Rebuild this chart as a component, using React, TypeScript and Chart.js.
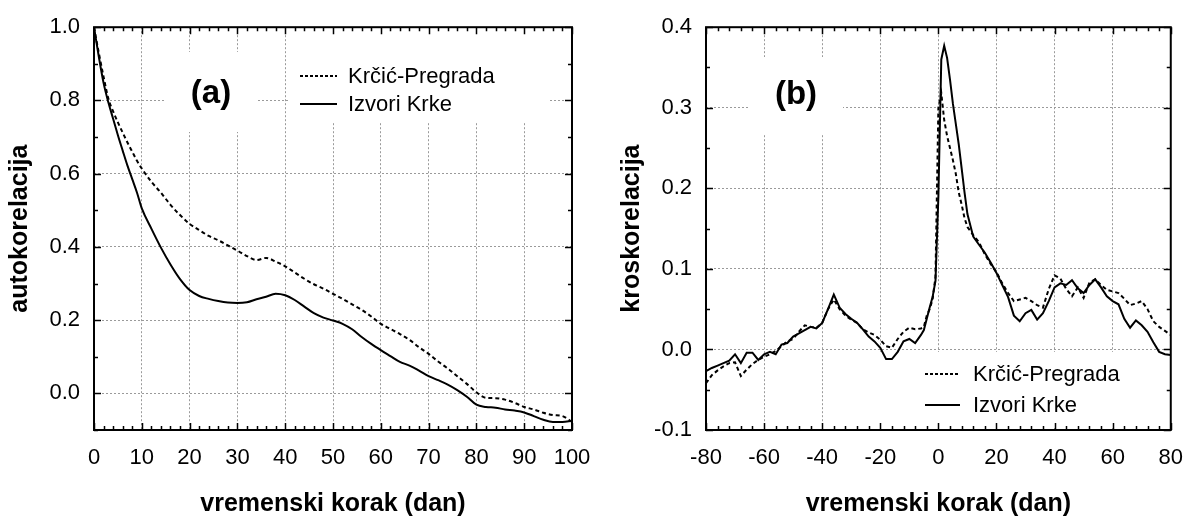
import React, { useEffect, useRef } from "react";
import { Chart, registerables } from "chart.js";

Chart.register(...registerables);

// ---------- data: panel (a) autocorrelation ----------
const lagA = [0, 1, 2, 3, 4, 5, 6, 7, 8, 9, 10, 12, 14, 16, 18, 20, 22, 24, 26, 28, 30, 32, 34, 36, 38, 40, 42, 44, 46, 48, 50, 52, 54, 56, 58, 60, 62, 64, 66, 68, 70, 72, 74, 76, 78, 80, 82, 84, 86, 88, 90, 92, 94, 96, 98, 100];
const krcicA = [1.0, 0.93, 0.865, 0.805, 0.77, 0.74, 0.712, 0.685, 0.66, 0.635, 0.614,
  0.578, 0.548, 0.515, 0.487, 0.463, 0.446, 0.43, 0.418, 0.404, 0.39, 0.375, 0.364, 0.37, 0.36, 0.347, 0.33, 0.313, 0.298, 0.286, 0.272, 0.258, 0.243, 0.228, 0.21, 0.19, 0.176, 0.162, 0.146, 0.126, 0.108, 0.087, 0.068, 0.047, 0.026, 0.003, -0.012, -0.013, -0.017, -0.026, -0.037, -0.044, -0.053, -0.059, -0.062, -0.078];
const izvoriA = [1.0, 0.92, 0.848, 0.795, 0.75, 0.705, 0.663, 0.622, 0.585, 0.548, 0.505,
  0.45, 0.398, 0.352, 0.312, 0.282, 0.266, 0.258, 0.252, 0.248, 0.247, 0.249, 0.257, 0.264, 0.272, 0.268, 0.255, 0.237, 0.219, 0.207, 0.199, 0.19, 0.175, 0.154, 0.135, 0.118, 0.102, 0.086, 0.076, 0.062, 0.047, 0.036, 0.024, 0.009, -0.009, -0.031, -0.037, -0.039, -0.044, -0.047, -0.052, -0.062, -0.072, -0.078, -0.078, -0.075];
const xTicksA = [0, 10, 20, 30, 40, 50, 60, 70, 80, 90, 100];
const yTicksA = [0.0, 0.2, 0.4, 0.6, 0.8, 1.0];

// ---------- data: panel (b) cross-correlation ----------
const lagB = [-80, -78, -76, -74, -72, -70, -68, -66, -64, -62, -60, -58, -56, -54, -52, -50, -48, -46, -44, -42, -40, -38, -36, -34, -32, -30, -28, -26, -24, -22, -20, -18, -16, -14, -12, -10, -8, -6,
  -5, -4, -3, -2, -1, 0, 1, 2, 3, 4, 5, 6, 7, 8, 9, 10,
  12, 14, 16, 18, 20, 22, 24, 26, 28, 30, 32, 34, 36, 38, 40, 42, 44, 46, 48, 50, 52, 54, 56, 58, 60, 62, 64, 66, 68, 70, 72, 74, 76, 78, 80];
const krcicB = [-0.042, -0.032, -0.026, -0.021, -0.017, -0.016, -0.033, -0.025, -0.018, -0.013, -0.009, -0.006, -0.002, 0.004, 0.01, 0.013, 0.022, 0.03, 0.028, 0.027, 0.033, 0.05, 0.062, 0.05, 0.042, 0.037, 0.033, 0.025, 0.021, 0.018, 0.012, 0.004, 0.002, 0.013, 0.022, 0.027, 0.025, 0.026,
  0.028, 0.042, 0.05, 0.062, 0.09, 0.3, 0.318, 0.285, 0.265, 0.25, 0.235, 0.218, 0.195, 0.18, 0.163, 0.152,
  0.142, 0.133, 0.118, 0.106, 0.096, 0.082, 0.07, 0.06, 0.062, 0.064, 0.06, 0.055, 0.052, 0.075, 0.092, 0.088, 0.075, 0.066, 0.077, 0.064, 0.083, 0.087, 0.08, 0.074, 0.072, 0.07, 0.063, 0.055, 0.057, 0.06, 0.05, 0.035, 0.028, 0.023, 0.018];
const izvoriB = [-0.027, -0.023, -0.02, -0.017, -0.014, -0.006, -0.017, -0.004, -0.004, -0.013, -0.006, -0.003, -0.006, 0.006, 0.008, 0.016, 0.02, 0.024, 0.028, 0.026, 0.033, 0.05, 0.068, 0.052, 0.044, 0.038, 0.033, 0.025, 0.016, 0.01, 0.002, -0.012, -0.012, -0.003, 0.01, 0.013, 0.008, 0.018,
  0.024, 0.038, 0.052, 0.065, 0.085, 0.19, 0.36, 0.377, 0.362, 0.335, 0.305, 0.28, 0.255, 0.225, 0.195, 0.168,
  0.14, 0.13, 0.12, 0.108, 0.095, 0.08, 0.065, 0.042, 0.035, 0.045, 0.049, 0.037, 0.045, 0.06, 0.077, 0.082, 0.08, 0.086, 0.076, 0.07, 0.08, 0.087, 0.077, 0.066, 0.06, 0.056, 0.038, 0.027, 0.036, 0.03, 0.022, 0.009, -0.003, -0.006, -0.007];
const xTicksB = [-80, -60, -40, -20, 0, 20, 40, 60, 80];
const yTicksB = [-0.1, 0.0, 0.1, 0.2, 0.3, 0.4];

const seriesNames = ["Krčić-Pregrada", "Izvori Krke"];
const xTitle = "vremenski korak (dan)";
const yTitleA = "autokorelacija";
const yTitleB = "kroskorelacija";

const FONT = '"Liberation Sans", Arial, Helvetica, sans-serif';

type PanelSpec = {
  lags: number[];
  series: number[][];
  xMin: number; xMax: number; yMin: number; yMax: number;
  xTicks: number[]; yTicks: number[];
  xMinor: number; yMinor: number; xMajor: number; yMajor: number;
  yTitle: string; tag: string; smooth: boolean;
  rightPad: number;
  tagPos: [number, number];
  boxes: number[][];
  legend: { lineX0: number; lineX1: number; textX: number; ys: number[] };
};

function makePlugin(spec: PanelSpec) {
  return {
    id: "frameDecor",
    beforeDatasetsDraw(chart: any) {
      const ctx = chart.ctx;
      ctx.save();
      ctx.fillStyle = "#fff";
      for (const b of spec.boxes) ctx.fillRect(b[0], b[1], b[2] - b[0], b[3] - b[1]);
      ctx.restore();
    },
    afterDatasetsDraw(chart: any) {
      const { ctx, chartArea: ca, scales } = chart;
      const xs = scales.x, ys = scales.y;
      ctx.save();
      ctx.strokeStyle = "#000";
      ctx.lineWidth = 1.5;
      ctx.setLineDash([]);
      const isMajor = (v: number, m: number) => Math.abs(v / m - Math.round(v / m)) < 1e-6;
      const nx = Math.round((spec.xMax - spec.xMin) / spec.xMinor);
      ctx.beginPath();
      for (let i = 0; i <= nx; i++) {
        const v = spec.xMin + i * spec.xMinor;
        const px = Math.round(xs.getPixelForValue(v)) + 0.5;
        const len = isMajor(v, spec.xMajor) ? 7 : 4;
        ctx.moveTo(px, ca.bottom); ctx.lineTo(px, ca.bottom - len);
        ctx.moveTo(px, ca.top); ctx.lineTo(px, ca.top + len);
      }
      const ny = Math.round((spec.yMax - spec.yMin) / spec.yMinor);
      for (let i = 0; i <= ny; i++) {
        const v = spec.yMin + i * spec.yMinor;
        const py = Math.round(ys.getPixelForValue(v)) + 0.5;
        const len = isMajor(v, spec.yMajor) ? 7 : 4;
        ctx.moveTo(ca.left, py); ctx.lineTo(ca.left + len, py);
        ctx.moveTo(ca.right, py); ctx.lineTo(ca.right - len, py);
      }
      ctx.stroke();
      ctx.lineWidth = 2;
      ctx.strokeRect(ca.left, ca.top, ca.right - ca.left, ca.bottom - ca.top);

      // panel tag
      ctx.fillStyle = "#000";
      ctx.font = `bold 33px ${FONT}`;
      ctx.textAlign = "center";
      ctx.textBaseline = "middle";
      ctx.fillText(spec.tag, spec.tagPos[0], spec.tagPos[1]);

      // legend
      ctx.font = `22px ${FONT}`;
      ctx.textAlign = "left";
      chart.data.datasets.forEach((ds: any, i: number) => {
        const y = spec.legend.ys[i];
        ctx.beginPath();
        ctx.lineWidth = 2;
        ctx.setLineDash(ds.borderDash && ds.borderDash.length ? [3, 2] : []);
        ctx.moveTo(spec.legend.lineX0, y);
        ctx.lineTo(spec.legend.lineX1, y);
        ctx.stroke();
        ctx.setLineDash([]);
        ctx.fillText(ds.label, spec.legend.textX, y + 1);
      });
      ctx.restore();
    },
  };
}

function makeConfig(spec: PanelSpec): any {
  const dashes = [[4, 3], []];
  return {
    type: "line",
    data: {
      datasets: spec.series.map((vals, si) => ({
        label: seriesNames[si],
        data: spec.lags.map((x, i) => ({ x, y: vals[i] })),
        borderColor: "#000",
        borderWidth: 2,
        borderDash: dashes[si],
        pointRadius: 0,
        fill: false,
        tension: spec.smooth ? 0.4 : 0,
        cubicInterpolationMode: spec.smooth ? "monotone" : "default",
      })),
    },
    options: {
      animation: false,
      responsive: false,
      events: [],
      layout: { padding: { top: 23, right: spec.rightPad, bottom: 0, left: 0 } },
      plugins: { legend: { display: false }, tooltip: { enabled: false } },
      scales: {
        x: {
          type: "linear",
          min: spec.xMin,
          max: spec.xMax,
          afterBuildTicks: (s: any) => { s.ticks = spec.xTicks.map((v) => ({ value: v })); },
          afterFit: (s: any) => { s.height = 87; },
          grid: { color: "#9a9a9a", lineWidth: 1, drawTicks: false },
          border: { display: false, dash: [2, 2] },
          ticks: {
            padding: 15, color: "#000", autoSkip: false, maxRotation: 0,
            font: { family: FONT, size: 22 },
            callback: (v: any) => String(v),
          },
          title: {
            display: true, text: xTitle, color: "#000",
            font: { family: FONT, size: 25, weight: "bold", lineHeight: 1 },
            padding: { top: 0, bottom: 0 },
          },
        },
        y: {
          type: "linear",
          min: spec.yMin,
          max: spec.yMax,
          afterBuildTicks: (s: any) => { s.ticks = spec.yTicks.map((v) => ({ value: v })); },
          afterFit: (s: any) => { s.width = 94; },
          grid: { color: "#9a9a9a", lineWidth: 1, drawTicks: false },
          border: { display: false, dash: [2, 2] },
          ticks: {
            padding: 14, color: "#000",
            font: { family: FONT, size: 22 },
            callback: (v: any) => Number(v).toFixed(1),
          },
          title: {
            display: true, text: spec.yTitle, color: "#000",
            font: { family: FONT, size: 25, weight: "bold", lineHeight: 1.2 },
            padding: { top: 5, bottom: 0 },
          },
        },
      },
    },
    plugins: [makePlugin(spec)],
  };
}

const specA: PanelSpec = {
  lags: lagA, series: [krcicA, izvoriA],
  xMin: 0, xMax: 100, yMin: -0.1, yMax: 1.0,
  xTicks: xTicksA, yTicks: yTicksA,
  xMinor: 2, yMinor: 0.1, xMajor: 10, yMajor: 0.2,
  yTitle: yTitleA, tag: "(a)", smooth: true,
  rightPad: 40,
  tagPos: [211, 94],
  boxes: [[164, 52, 258, 132], [290, 25, 550, 123]],
  legend: { lineX0: 300, lineX1: 337, textX: 348, ys: [76, 104] },
};

const specB: PanelSpec = {
  lags: lagB, series: [krcicB, izvoriB],
  xMin: -80, xMax: 80, yMin: -0.1, yMax: 0.4,
  xTicks: xTicksB, yTicks: yTicksB,
  xMinor: 4, yMinor: 0.05, xMajor: 20, yMajor: 0.1,
  yTitle: yTitleB, tag: "(b)", smooth: false,
  rightPad: 16,
  tagPos: [184, 95],
  boxes: [[138, 57, 231, 135], [268, 352, 548, 428]],
  legend: { lineX0: 313, lineX1: 348, textX: 361, ys: [374, 405] },
};

function Panel({ spec, left, width }: { spec: PanelSpec; left: number; width: number }) {
  const ref = useRef<HTMLCanvasElement | null>(null);
  useEffect(() => {
    if (!ref.current) return;
    const chart = new Chart(ref.current, makeConfig(spec));
    return () => chart.destroy();
  }, [spec]);
  return (
    <canvas
      ref={ref}
      width={width}
      height={517}
      style={{ position: "absolute", left, top: 0, width, height: 517 }}
    />
  );
}

export default function App() {
  return (
    <div style={{ position: "fixed", left: 0, top: 0, width: 1198, height: 517, background: "#fff", overflow: "hidden" }}>
      <Panel spec={specA} left={0} width={612} />
      <Panel spec={specB} left={612} width={586} />
    </div>
  );
}
